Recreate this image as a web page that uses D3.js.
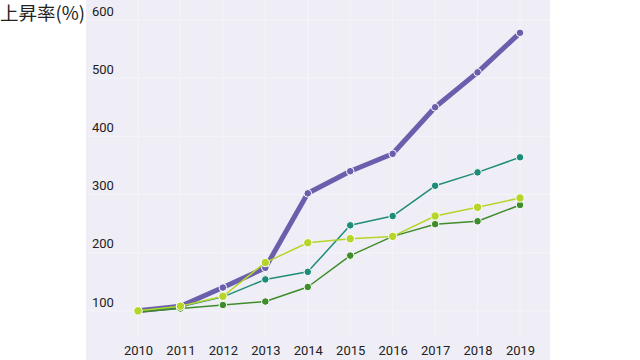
<!DOCTYPE html>
<html><head><meta charset="utf-8">
<script src="https://cdn.jsdelivr.net/npm/d3@7/dist/d3.min.js"></script>
<style>body{margin:0;background:#fff;}svg{display:block;}</style>
</head><body>
<svg id="c" width="640" height="360"></svg>
<script>
const years = ["2010","2011","2012","2013","2014","2015","2016","2017","2018","2019"];
const purple = [100,108,140,174,302,340,370,450,510,578];
const teal = [100,107,124,154,167,247,263,315,338,364];
const darkGreen = [98,104,110,116,141,195,228,249,254,282];
const lime = [100,108,125,183,217,224,228,263,278,294];
const yTicks = [100,200,300,400,500,600];
const yTitle = "上昇率(%)";

const series = [
  {name:"a", values:purple, color:"#6a5fac", width:5, r:3.8},
  {name:"b", values:teal, color:"#1e8c78", width:1.5, r:3.8},
  {name:"c", values:darkGreen, color:"#3e8c2a", width:1.5, r:3.8},
  {name:"d", values:lime, color:"#b6d52a", width:1.5, r:4.2}
];

const svg = d3.select("#c");
const x = d3.scalePoint().domain(years).range([138, 520]);
const y = d3.scaleLinear().domain([0, 600]).range([369, 20]);

svg.append("rect").attr("x",86).attr("y",0).attr("width",464).attr("height",360).attr("fill","#efeef6");

const g = svg.append("g");
g.selectAll("line.hg").data(yTicks).join("line").attr("class","hg")
  .attr("x1",86).attr("x2",550).attr("y1",d=>y(d)).attr("y2",d=>y(d))
  .attr("stroke","#f5f4fa").attr("stroke-width",1);
g.selectAll("line.vg").data(years).join("line").attr("class","vg")
  .attr("x1",d=>x(d)).attr("x2",d=>x(d)).attr("y1",0).attr("y2",338)
  .attr("stroke","#f5f4fa").attr("stroke-width",1);

const ya = svg.append("g").attr("transform","translate(92,0)")
  .call(d3.axisRight(y).tickValues(yTicks).tickSize(0).tickPadding(0));
ya.select(".domain").remove();
ya.selectAll("text").attr("y",-9).attr("font-family","Roboto, sans-serif").attr("font-size",13).attr("fill","#222");

const xa = svg.append("g").attr("transform","translate(0,350)")
  .call(d3.axisBottom(x).tickSize(0).tickPadding(0));
xa.select(".domain").remove();
xa.selectAll("text").attr("dy","0.35em").attr("font-family","Roboto, sans-serif").attr("font-size",13).attr("fill","#222");

const line = d3.line().x((d,i)=>x(years[i])).y(d=>y(d));
series.forEach(s=>{
  const sg = svg.append("g");
  sg.append("path").datum(s.values).attr("d",line).attr("fill","none")
    .attr("stroke",s.color).attr("stroke-width",s.width).attr("stroke-linejoin","round");
  sg.selectAll("circle").data(s.values).join("circle")
    .attr("cx",(d,i)=>x(years[i])).attr("cy",d=>y(d)).attr("r",s.r)
    .attr("fill",s.color).attr("stroke","#fff").attr("stroke-width",1);
});

svg.append("text").attr("x",0).attr("y",20).text(yTitle)
  .attr("font-family","'Noto Sans CJK JP', sans-serif").attr("font-size",18.5).attr("fill","#222");
</script>
</body></html>
